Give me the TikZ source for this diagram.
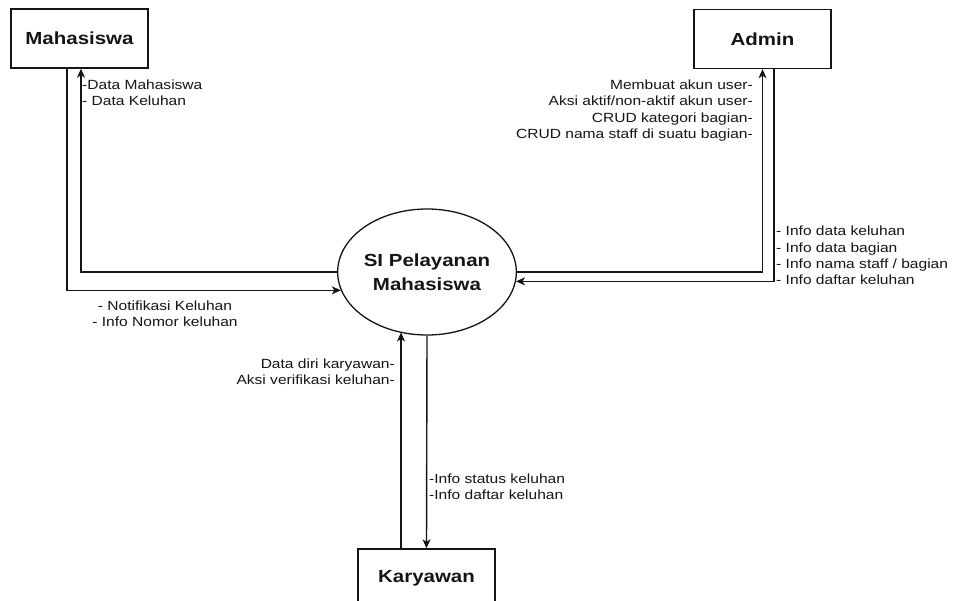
\documentclass[tikz,border=0pt]{standalone}
\usepackage{fontspec}
\setmainfont{Liberation Sans}[FakeStretch=1.17]
\usetikzlibrary{arrows.meta,shapes.geometric}
\definecolor{ink}{HTML}{151515}
\tikzset{
  ent/.style={draw=ink, line width=1.4pt, minimum width=137pt, minimum height=59pt, inner sep=0pt,
    font=\fontsize{17.5}{20}\selectfont\bfseries, text=ink},
  proc/.style={draw=ink, line width=1.3pt, ellipse, minimum width=148pt, minimum height=126pt, inner sep=0pt,
    align=center, font=\fontsize{17.5}{24}\selectfont\bfseries, text=ink},
  arr/.style={draw=ink, line width=1.4pt, -{Stealth[length=9pt,width=8pt,inset=2.5pt]}},
  lbl/.style={inner sep=0pt, text=ink, font=\fontsize{13.3}{16.3}\selectfont},
}
\begin{document}
\begin{tikzpicture}[x=1pt,y=-1pt]
\useasboundingbox (0,0) rectangle (956,600);
\begin{scope}
\clip (0,0) rectangle (956,600);
\node[ent] (mah) at (79.5,38.5) {Mahasiswa};
\node[ent] (adm) at (762.5,39) {Admin};
\node[ent] (kar) at (426.5,578.5) {Karyawan};
\node[proc] (circ) at (427,272) {SI Pelayanan\\Mahasiswa};

% Mahasiswa flows
\draw[arr] (circ.west) -| ([xshift=1.5pt]mah.south);
\draw[arr] ([xshift=-12.5pt]mah.south) |- (circ.192.6);
% Admin flows
\draw[arr] (circ.east) -| (adm.south);
\draw[arr] ([xshift=11.5pt]adm.south) |- (circ.354.6);
% Karyawan flows
\draw[arr] ([xshift=-25.5pt]kar.north) -- ([xshift=-25.5pt]kar.north |- circ.245.4);
\draw[arr] (circ.south) -- (kar.north);
\end{scope}

% labels
\node[lbl, anchor=west, align=left] (l1) at (82,93) {-Data Mahasiswa\\- Data Keluhan};
\node[lbl, align=center] (l2) at (165,313.5) {- Notifikasi Keluhan\\- Info Nomor keluhan};
\node[lbl, anchor=east, align=right] (l3) at (753,110.5) {Membuat akun user-\\Aksi aktif/non-aktif akun user-\\CRUD kategori bagian-\\CRUD nama staff di suatu bagian-};
\node[lbl, anchor=west, align=left] (l4) at (776,255.5) {- Info data keluhan\\- Info data bagian\\- Info nama staff / bagian\\- Info daftar keluhan};
\node[lbl, anchor=east, align=right] (l5) at (395,371.5) {Data diri karyawan-\\Aksi verifikasi keluhan-};
\node[lbl, anchor=west, align=left] (l6) at (429,486.5) {-Info status keluhan\\-Info daftar keluhan};
\end{tikzpicture}
\end{document}
